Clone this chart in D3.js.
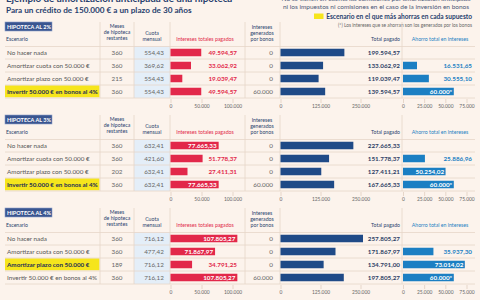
<!DOCTYPE html>
<html>
<head>
<meta charset="utf-8">
<script src="https://cdn.jsdelivr.net/npm/d3@7"></script>
<style>
  body { margin: 0; background: #fcf3ec; }
  svg { display: block; font-family: Lato, "Open Sans", sans-serif; }
</style>
</head>
<body>
<div id="chart"></div>
<script>
// Data
const sections = ["HIPOTECA AL 2%", "HIPOTECA AL 3%", "HIPOTECA AL 4%"];
const scenarios = ["No hacer nada", "Amortizar cuota con 50.000 €", "Amortizar plazo con 50.000 €", "Invertir 50.000 € en bonos al 4%"];
const meses = [[360, 360, 215, 360], [360, 360, 202, 360], [360, 360, 189, 360]];
const cuota = [[554.43, 369.62, 554.43, 554.43], [632.41, 421.60, 632.41, 632.41], [716.12, 477.42, 716.12, 716.12]];
const intereses = [[49594.57, 33062.92, 19039.47, 49594.57], [77665.33, 51778.37, 27411.31, 77665.33], [107805.27, 71867.97, 34791.25, 107805.27]];
const bonos = [[0, 0, 0, 60000], [0, 0, 0, 60000], [0, 0, 0, 60000]];
const totalPagado = [[199594.57, 133062.92, 119039.47, 139594.57], [227665.33, 151778.37, 127411.21, 167665.33], [257805.27, 171867.97, 134791.00, 197805.27]];
const ahorro = [[null, 16531.65, 30555.10, 60000], [null, 25886.96, 50254.02, 60000], [null, 35937.30, 73014.02, 60000]];
const bestRow = [3, 3, 2];
const ticksIntereses = [0, 50000, 100000];
const ticksTotal = [0, 125000, 250000];
const ticksAhorro = [0, 25000, 50000, 75000];

const navy = "#283f6e", red = "#e2284a", darkBar = "#1f4a87", blue = "#1b7fc3", grey = "#666", line = "#e6d6c9";

const es = d3.formatLocale({decimal: ",", thousands: ".", grouping: [3], currency: ["", " €"]});
const f2 = es.format(",.2f"), f0 = es.format(",.0f");

const svg = d3.select("#chart").append("svg")
  .attr("width", 480).attr("height", 300);

// Title and notes
svg.append("text").attr("x", 6).attr("y", 1.8)
  .attr("font-size", 9.8).attr("font-weight", 700).attr("fill", navy)
  .text("Ejemplo de amortización anticipada de una hipoteca");
svg.append("text").attr("x", 6).attr("y", 13.2)
  .attr("font-size", 8.2).attr("font-weight", 700).attr("fill", navy)
  .text("Para un crédito de 150.000 € a un plazo de 30 años");
svg.append("text").attr("x", 376).attr("y", 1.2).attr("text-anchor", "middle")
  .attr("font-size", 6.5).attr("fill", "#4a5878")
  .text("No se tienen en cuenta las comisiones por amortización anticipada");
svg.append("text").attr("x", 376).attr("y", 8.8).attr("text-anchor", "middle")
  .attr("font-size", 6.5).attr("fill", "#4a5878")
  .text("ni los impuestos ni comisiones en el caso de la inversión en bonos");
svg.append("rect").attr("x", 314).attr("y", 13.5).attr("width", 9.5).attr("height", 5.5)
  .attr("fill", "#f6e51c");
svg.append("text").attr("x", 472).attr("y", 19).attr("text-anchor", "end")
  .attr("font-size", 6.6).attr("font-weight", 700).attr("fill", navy)
  .text("Escenario en el que más ahorras en cada supuesto");
svg.append("text").attr("x", 472).attr("y", 27).attr("text-anchor", "end")
  .attr("font-size", 4.8).attr("fill", grey)
  .text("(*) Los intereses que se ahorran son los generados por los bonos");

const xInt = d3.scaleLinear().domain([0, 100000]).range([170.5, 232.5]);
const xTot = d3.scaleLinear().domain([0, 250000]).range([280.5, 360.5]);
const xAho = d3.scaleLinear().domain([0, 75000]).range([403, 466.5]);

const rowY = d3.scalePoint().domain(d3.range(4)).range([52.5, 91.5]);
const barH = 7.5;

sections.forEach(function (title, s) {
  const g = svg.append("g").attr("transform", "translate(0," + (s * 93) + ")");

  // cuota column background
  g.append("rect").attr("x", 134).attr("y", 46.5).attr("width", 36).attr("height", 51.5)
    .attr("fill", "#e4eef8");

  // highlight of best scenario
  g.append("rect").attr("x", 5).attr("y", rowY(bestRow[s]) - 6.2)
    .attr("width", 94.5).attr("height", 12).attr("fill", "#f6e51c");

  // horizontal rules
  [46.5, 59, 72, 85, 98].forEach(function (y) {
    g.append("line").attr("x1", 5).attr("x2", 475).attr("y1", y).attr("y2", y)
      .attr("stroke", line).attr("stroke-width", 0.8);
  });
  // vertical rules
  [100, 134, 170, 245, 280, 402].forEach(function (x) {
    g.append("line").attr("x1", x).attr("x2", x).attr("y1", 22).attr("y2", 98)
      .attr("stroke", line).attr("stroke-width", 0.8);
  });

  // section label
  g.append("rect").attr("x", 5).attr("y", 22).attr("width", 47).attr("height", 9)
    .attr("fill", "#3a5590").attr("stroke", "#8ea0c8").attr("stroke-width", 0.6);
  g.append("text").attr("x", 7).attr("y", 28.6).attr("font-size", 5.5)
    .attr("font-weight", 700).attr("fill", "#fff").text(title);

  // column headers
  const head = g.append("g").attr("font-size", 5.2).attr("fill", navy);
  head.append("text").attr("x", 6).attr("y", 41).text("Escenario");
  ["Meses", "de hipoteca", "restantes"].forEach(function (t, i) {
    head.append("text").attr("x", 117).attr("y", 28 + i * 6).attr("text-anchor", "middle").text(t);
  });
  ["Cuota", "mensual"].forEach(function (t, i) {
    head.append("text").attr("x", 152).attr("y", 34.5 + i * 6).attr("text-anchor", "middle").text(t);
  });
  ["Intereses", "generados", "por bonos"].forEach(function (t, i) {
    head.append("text").attr("x", 262).attr("y", 29 + i * 6).attr("text-anchor", "middle").text(t);
  });
  head.append("text").attr("x", 205).attr("y", 41).attr("text-anchor", "middle")
    .attr("fill", red).text("Intereses totales pagados");
  head.append("text").attr("x", 400).attr("y", 41).attr("text-anchor", "end").text("Total pagado");
  head.append("text").attr("x", 440).attr("y", 41).attr("text-anchor", "middle")
    .attr("fill", blue).text("Ahorro total en intereses");

  const rows = g.selectAll("g.row").data(d3.range(4)).enter().append("g")
    .attr("class", "row")
    .attr("transform", function (i) { return "translate(0," + rowY(i) + ")"; })
    .attr("font-size", 6.3);

  rows.append("text").attr("x", 7).attr("dy", "0.35em")
    .attr("fill", function (i) { return i === bestRow[s] ? "#1f2f55" : "#555"; })
    .attr("font-weight", function (i) { return i === bestRow[s] ? 700 : 400; })
    .text(function (i) { return scenarios[i]; });
  rows.append("text").attr("x", 117).attr("dy", "0.35em").attr("text-anchor", "middle")
    .attr("fill", grey).text(function (i) { return meses[s][i]; });
  rows.append("text").attr("x", 154).attr("dy", "0.35em").attr("text-anchor", "middle")
    .attr("fill", grey).text(function (i) { return f2(cuota[s][i]); });

  // intereses totales
  rows.append("rect").attr("x", xInt(0)).attr("y", -barH / 2).attr("height", barH)
    .attr("width", function (i) { return xInt(intereses[s][i]) - xInt(0); })
    .attr("fill", red);
  rows.append("text").attr("dy", "0.35em").attr("text-anchor", "end").attr("font-weight", 700)
    .attr("x", function (i) { return intereses[s][i] > 60000 ? xInt(intereses[s][i]) - 2 : 237; })
    .attr("fill", function (i) { return intereses[s][i] > 60000 ? "#fff" : red; })
    .text(function (i) { return f2(intereses[s][i]); });

  // bonos
  rows.append("text").attr("x", 273).attr("dy", "0.35em").attr("text-anchor", "end")
    .attr("fill", grey).text(function (i) { return f0(bonos[s][i]); });

  // total pagado
  rows.append("rect").attr("x", xTot(0)).attr("y", -barH / 2).attr("height", barH)
    .attr("width", function (i) { return xTot(totalPagado[s][i]) - xTot(0); })
    .attr("fill", darkBar);
  rows.append("text").attr("x", 400).attr("dy", "0.35em").attr("text-anchor", "end")
    .attr("font-weight", 700).attr("fill", "#2e3f66")
    .text(function (i) { return f2(totalPagado[s][i]); });

  // ahorro
  const ah = rows.filter(function (i) { return ahorro[s][i] !== null; });
  ah.append("rect").attr("x", xAho(0)).attr("y", -barH / 2).attr("height", barH)
    .attr("width", function (i) { return xAho(ahorro[s][i]) - xAho(0); })
    .attr("fill", blue);
  ah.append("text").attr("dy", "0.35em").attr("text-anchor", "end").attr("font-weight", 700)
    .attr("x", function (i) { return ahorro[s][i] > 45000 ? xAho(ahorro[s][i]) - 1.5 : 472; })
    .attr("fill", function (i) { return ahorro[s][i] > 45000 ? "#fff" : blue; })
    .text(function (i) { return i === 3 ? f0(ahorro[s][i]) + "*" : f2(ahorro[s][i]); });

  // axes
  [[xInt, ticksIntereses], [xTot, ticksTotal], [xAho, ticksAhorro]].forEach(function (a) {
    const ax = g.append("g").attr("transform", "translate(0,99)")
      .call(d3.axisBottom(a[0]).tickValues(a[1]).tickSize(4).tickPadding(2).tickFormat(f0));
    ax.select(".domain").remove();
    ax.selectAll("line").attr("stroke", line);
    ax.selectAll("text").attr("font-size", 4.9).attr("fill", grey).attr("font-family", "Lato");
  });
});
</script>
</body>
</html>
